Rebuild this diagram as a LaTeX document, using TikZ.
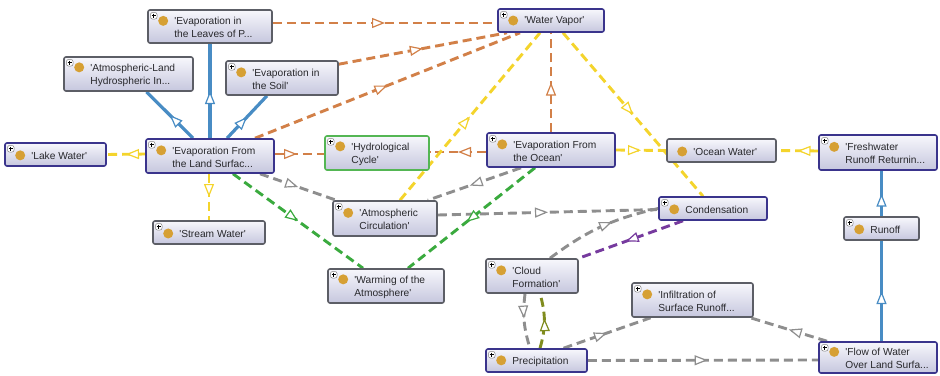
\documentclass[tikz,border=0pt]{standalone}
\usepackage{fontspec}
\usetikzlibrary{arrows.meta,decorations.markings}
\newfontfamily\lblfont{Liberation Sans}

\definecolor{boxtop}{RGB}{247,247,252}
\definecolor{boxbot}{RGB}{198,199,222}
\definecolor{navyB}{RGB}{58,52,140}
\definecolor{grayB}{RGB}{92,94,102}
\definecolor{greenB}{RGB}{84,182,84}
\definecolor{dotC}{RGB}{214,160,52}
\definecolor{txtC}{RGB}{40,40,44}
\definecolor{orangeE}{RGB}{210,128,72}
\definecolor{yellowE}{RGB}{244,212,44}
\definecolor{grayE}{RGB}{142,142,142}
\definecolor{greenE}{RGB}{58,170,62}
\definecolor{blueE}{RGB}{72,140,196}
\definecolor{purpleE}{RGB}{118,58,158}
\definecolor{oliveE}{RGB}{128,140,30}

\newcommand\sq{\textquotesingle}

\pgfdeclarelayer{paper}
\pgfdeclarelayer{edges}
\pgfsetlayers{paper,edges,main}

\tikzset{
  obox/.style={draw, rounded corners=2pt, line width=1.6pt, inner sep=0pt,
    top color=boxtop, bottom color=boxbot},
  navy/.style={draw=navyB},
  grey/.style={draw=grayB},
  grn/.style={draw=greenB},
  plus/.style={path picture={
    \draw[line width=0.5pt, draw=gray, fill=white]
      ([xshift=2.5pt,yshift=-2.5pt]path picture bounding box.north west) rectangle ++(6.5pt,-6.5pt);
    \draw[line width=0.8pt, black]
      ([xshift=5.75pt,yshift=-3.6pt]path picture bounding box.north west) -- ++(0,-4.3pt)
      ([xshift=3.6pt,yshift=-5.75pt]path picture bounding box.north west) -- ++(4.3pt,0);
  }},
  otext/.style={font=\lblfont\fontsize{10.2}{13}\selectfont, align=left,
    inner sep=0pt, text=txtC},
  dot/.style={fill=dotC},
  tip/.style={decoration={markings, mark=at position #1 with
    {\arrow{Triangle[fill=white, length=13pt, width=10pt, line width=1.2pt]}}},
    postaction={decorate}},
  tip/.default=0.5,
  rel/.style={line width=2.9pt, dash pattern=on 9pt off 5pt},
  isa/.style={line width=3.2pt, draw=blueE},
}

% name, centre x, centre y, width, height, style, text
\newcommand\onto[7]{%
  \node[obox, #6, minimum width=#4pt, minimum height=#5pt] (#1) at (#2,-#3) {};
  \node[otext, anchor=west] (#1-t) at ([xshift=27pt,yshift=-1pt]#1.west) {#7};
  \fill[dot] ([xshift=-11pt,yshift=-3.8pt]#1-t.north west) circle (5pt);
}

\begin{document}
\begin{tikzpicture}[x=1pt, y=1pt]
\begin{pgfonlayer}{paper}
  \fill[white] (0,0) rectangle (940,-375);
\end{pgfonlayer}
\useasboundingbox (0,0) rectangle (940,-375);

% classes
\onto{leaves}{210}{26.5}{124}{33}{grey,plus}{\sq Evaporation in\\the Leaves of P...}
\onto{atmland}{128.5}{74}{129}{34}{grey,plus}{\sq Atmospheric-Land\\Hydrospheric In...}
\onto{soil}{282}{78}{112}{34}{grey,plus}{\sq Evaporation in\\the Soil\sq}
\onto{lake}{55.5}{154.5}{101}{23}{navy,plus}{\sq Lake Water\sq}
\onto{land}{210}{156}{128}{34}{navy,plus}{\sq Evaporation From\\the Land Surfac...}
\onto{hydro}{377}{153}{104}{34}{grn,plus}{\sq Hydrological\\Cycle\sq}
\onto{vapor}{551}{20.5}{106}{23}{navy,plus}{\sq Water Vapor\sq}
\onto{ocean}{551}{150}{128}{34}{navy,plus}{\sq Evaporation From\\the Ocean\sq}
\onto{oceanw}{721.5}{150.5}{109}{23}{grey}{\sq Ocean Water\sq}
\onto{fresh}{878}{152.5}{118}{35}{navy,plus}{\sq Freshwater\\Runoff Returnin...}
\onto{cond}{713}{208.5}{108}{23}{navy,plus}{Condensation}
\onto{runoff}{881.5}{228.5}{75}{23}{grey,plus}{Runoff}
\onto{stream}{209}{232.5}{112}{23}{grey,plus}{\sq Stream Water\sq}
\onto{atmcirc}{385}{218.5}{104}{35}{grey,plus}{\sq Atmospheric\\Circulation\sq}
\onto{warming}{386}{286}{116}{34}{grey,plus}{\sq Warming of the\\Atmosphere\sq}
\onto{cloud}{532}{276}{92}{34}{grey,plus}{\sq Cloud\\Formation\sq}
\onto{precip}{536.5}{360.5}{101}{23}{navy,plus}{Precipitation}
\onto{infil}{692.5}{300}{121}{34}{grey,plus}{\sq Infiltration of\\Surface Runoff...}
\onto{flow}{878}{357.5}{118}{31}{navy,plus}{\sq Flow of Water\\Over Land Surfa...}

\begin{pgfonlayer}{edges}
  % orange relations
  \draw[rel, orangeE, tip] ([yshift=3.5pt]leaves.east) -- ([yshift=-2.5pt]vapor.west);
  \draw[rel, orangeE, tip] ([yshift=-4pt]soil.north east) -- ([xshift=-44pt]vapor.south);
  \draw[rel, orangeE, tip] ([xshift=45pt]land.north) -- ([xshift=-31pt]vapor.south);
  \draw[rel, orangeE, tip] (ocean.north) -- (vapor.south);
  \draw[rel, orangeE, tip] ([yshift=-2pt]ocean.west) -- ([yshift=1pt]hydro.east);
  \draw[rel, orangeE, tip=0.45] ([yshift=2pt]land.east) -- ([yshift=-1pt]hydro.west);

  % yellow relations
  \draw[rel, yellowE, tip=0.5] ([yshift=2pt]land.west) -- (lake.east);
  \draw[rel, yellowE, tip] ([xshift=-1pt]land.south) -- (stream.north);
  \draw[rel, yellowE, tip] ([xshift=15pt]atmcirc.north) -- ([xshift=-11pt]vapor.south);
  \draw[rel, yellowE, tip] ([xshift=12pt]vapor.south) -- ([xshift=-10pt]cond.north);
  \draw[rel, yellowE, tip=0.5] (ocean.east) -- (oceanw.west);
  \draw[rel, yellowE, tip] ([yshift=1.5pt]fresh.west) -- (oceanw.east);

  % blue subclass links
  \draw[isa, tip] (runoff.north) -- ([xshift=3.5pt]fresh.south);
  \draw[isa, tip] ([xshift=3.5pt]flow.north) -- (runoff.south);
  \draw[isa, tip] (land.north) -- (leaves.south);
  \draw[isa, tip] ([xshift=-17pt]land.north) -- ([xshift=18pt]atmland.south);
  \draw[isa, tip] ([xshift=17pt]land.north) -- ([xshift=-15pt]soil.south);

  % grey relations
  \draw[rel, grayE, tip] ([xshift=50pt]land.south) -- ([xshift=4pt]atmcirc.north west);
  \draw[rel, grayE, tip=0.55] ([xshift=-30pt]ocean.south) -- ([xshift=-10pt]atmcirc.north east);
  \draw[rel, grayE, tip] ([yshift=3.5pt]atmcirc.east) -- ([yshift=-1pt]cond.west);
  \draw[rel, grayE, tip=0.6] ([xshift=18pt]cloud.north) to[bend left=12] (cond.west);
  \draw[rel, grayE, tip=0.45] ([xshift=-7pt]cloud.south) to[bend right=12] ([xshift=-6.5pt]precip.north);
  \draw[rel, grayE, tip] ([xshift=27pt]precip.north) -- ([xshift=-42pt]infil.south);
  \draw[rel, grayE, tip] ([xshift=-51pt]flow.north) -- ([xshift=58pt]infil.south);
  \draw[rel, grayE, tip=0.52] (precip.east) -- ([yshift=-2.5pt]flow.west);

  % green relations
  \draw[rel, greenE, tip] ([xshift=23pt]land.south) -- ([xshift=-23pt]warming.north);
  \draw[rel, greenE, tip=0.54] ([xshift=-16pt]ocean.south) -- ([xshift=22pt]warming.north);

  % purple and olive relations
  \draw[rel, purpleE, tip=0.55] ([xshift=-30pt]cond.south) -- (cloud.north east);
  \draw[rel, oliveE, tip=0.55] ([xshift=3.5pt]precip.north) to[bend right=16] ([xshift=8pt]cloud.south);
\end{pgfonlayer}
\end{tikzpicture}
\end{document}
